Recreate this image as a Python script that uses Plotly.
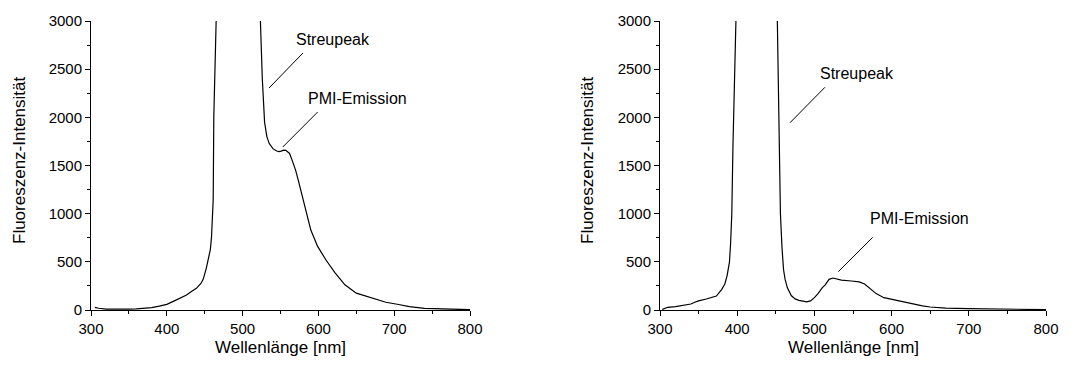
import plotly.graph_objects as go

# ---------------- data ----------------
# Left panel (scatter peak runs far off scale between 463 and 523 nm)
left_wl = [305, 310, 320, 330, 340, 350, 360, 370, 380, 390, 400, 410, 420, 426, 432, 439,
           445, 448, 452, 455, 457.5, 459, 460.5, 461.2, 462, 463, 493, 523.5, 526, 529,
           532, 535, 540, 545, 548, 551, 554, 557, 562, 566, 570, 574, 578, 584, 590,
           599, 610, 622, 635, 650, 663, 676, 689, 704, 720, 740, 760, 780, 800]
left_int = [28, 18, 10, 8, 8, 10, 12, 15, 25, 40, 59, 95, 135, 156, 190, 225,
            275, 318, 430, 540, 630, 760, 1000, 1142, 2000, 3000, 12000, 3000, 2400, 1950,
            1800, 1730, 1675, 1650, 1645, 1650, 1660, 1658, 1625, 1540, 1450, 1330, 1200, 1003, 830,
            660, 519, 385, 262, 175, 145, 111, 80, 60, 35, 17, 10, 5, 3]

# Right panel (scatter peak runs far off scale between 397 and 452 nm)
right_wl = [303, 310, 320, 330, 335, 340, 345, 350, 360, 370, 373, 380, 384, 387, 390, 391.5,
            393, 394.5, 396, 397.5, 425, 452, 454, 456, 458, 460, 462, 465, 470, 475, 480,
            485, 490, 495, 500, 505, 510, 514, 519, 524, 530, 535, 548, 558, 565, 570,
            580, 590, 600, 610, 620, 630, 640, 650, 670, 700, 750, 800]
right_int = [7, 28, 35, 45, 52, 62, 80, 95, 114, 140, 145, 215, 270, 360, 500, 700,
             1000, 1700, 2400, 3000, 12000, 3000, 2000, 1000, 650, 420, 320, 230, 150, 115, 100,
             90, 85, 95, 128, 173, 230, 260, 318, 332, 320, 311, 301, 292, 270, 235,
             170, 128, 111, 87, 69, 52, 42, 31, 20, 14, 7, 4]

x_ticks = [300, 400, 500, 600, 700, 800]
y_ticks = [0, 500, 1000, 1500, 2000, 2500, 3000]
x_label = "Wellenlänge [nm]"
y_label = "Fluoreszenz-Intensität"

# annotations: (panel, text, x, y) and leader lines (panel, x0, y0, x1, y1)
label_texts = ["Streupeak", "PMI-Emission", "Streupeak", "PMI-Emission"]
label_panels = [1, 1, 2, 2]
label_x = [619, 652, 555, 635.5]
label_y = [2813, 2196, 2457, 955]
leader_panels = [1, 1, 2, 2]
leader_x0 = [579.7, 599, 513.7, 575.4]
leader_y0 = [2668, 2055, 2312, 754]
leader_x1 = [534.8, 553, 468.4, 531]
leader_y1 = [2304, 1692, 1944, 398]

# ---------------- figure ----------------
W, H = 1071, 367
FONT = "Liberation Sans, Arial, sans-serif"

fig = go.Figure()
fig.add_trace(go.Scatter(x=left_wl, y=left_int, mode="lines",
                         line=dict(color="black", width=1.2), xaxis="x", yaxis="y",
                         showlegend=False, hoverinfo="skip"))
fig.add_trace(go.Scatter(x=right_wl, y=right_int, mode="lines",
                         line=dict(color="black", width=1.2), xaxis="x2", yaxis="y2",
                         showlegend=False, hoverinfo="skip"))

plot_top, plot_bottom = 21, 310
ydom = [1 - plot_bottom / H, 1 - plot_top / H]
left_dom = [91 / W, 470 / W]
right_dom = [660 / W, 1046 / W]

common_x = dict(range=[300, 800], tickvals=x_ticks, ticks="outside", ticklen=5, tickwidth=1,
                tickcolor="black", showline=True, linecolor="black", linewidth=1,
                showgrid=False, zeroline=False, automargin=False,
                tickfont=dict(family=FONT, size=15, color="black"),
                minor=dict(ticks="outside", ticklen=3, tickwidth=1, tickcolor="black",
                           dtick=50, showgrid=False))
common_y = dict(range=[0, 3000], tickvals=y_ticks, ticks="outside", ticklen=5, tickwidth=1,
                tickcolor="black", showline=True, linecolor="black", linewidth=1,
                showgrid=False, zeroline=False, automargin=False,
                tickfont=dict(family=FONT, size=15, color="black"),
                minor=dict(ticks="outside", ticklen=3, tickwidth=1, tickcolor="black",
                           dtick=250, showgrid=False))

fig.update_layout(
    width=W, height=H,
    margin=dict(l=0, r=0, t=0, b=0, pad=0, autoexpand=False),
    paper_bgcolor="white", plot_bgcolor="white",
    xaxis=dict(domain=left_dom, anchor="y", **common_x),
    yaxis=dict(domain=ydom, anchor="x", **common_y),
    xaxis2=dict(domain=right_dom, anchor="y2", **common_x),
    yaxis2=dict(domain=ydom, anchor="x2", **common_y),
)

annotations = []
# axis titles
for dom, ycx in ((left_dom, 19), (right_dom, 587)):
    annotations.append(dict(text=x_label, xref="paper", yref="paper",
                            x=(dom[0] + dom[1]) / 2, y=1 - 347 / H,
                            showarrow=False, xanchor="center", yanchor="middle",
                            font=dict(family=FONT, size=17, color="black")))
    annotations.append(dict(text=y_label, xref="paper", yref="paper",
                            x=ycx / W, y=1 - 160 / H, textangle=-90,
                            showarrow=False, xanchor="center", yanchor="middle",
                            font=dict(family=FONT, size=17, color="black")))
# in-plot labels
for p, t, x, y in zip(label_panels, label_texts, label_x, label_y):
    sfx = "" if p == 1 else "2"
    annotations.append(dict(text=t, x=x, y=y, xref="x" + sfx, yref="y" + sfx,
                            showarrow=False, xanchor="center", yanchor="middle",
                            font=dict(family=FONT, size=16, color="black")))
fig.update_layout(annotations=annotations)

shapes = []
for p, x0, y0, x1, y1 in zip(leader_panels, leader_x0, leader_y0, leader_x1, leader_y1):
    sfx = "" if p == 1 else "2"
    shapes.append(dict(type="line", xref="x" + sfx, yref="y" + sfx,
                       x0=x0, y0=y0, x1=x1, y1=y1,
                       line=dict(color="black", width=1)))
fig.update_layout(shapes=shapes)

fig.write_html("out.html",
               config={"displayModeBar": False},
               post_script="document.body.style.margin='0';document.body.style.overflow='hidden';")
